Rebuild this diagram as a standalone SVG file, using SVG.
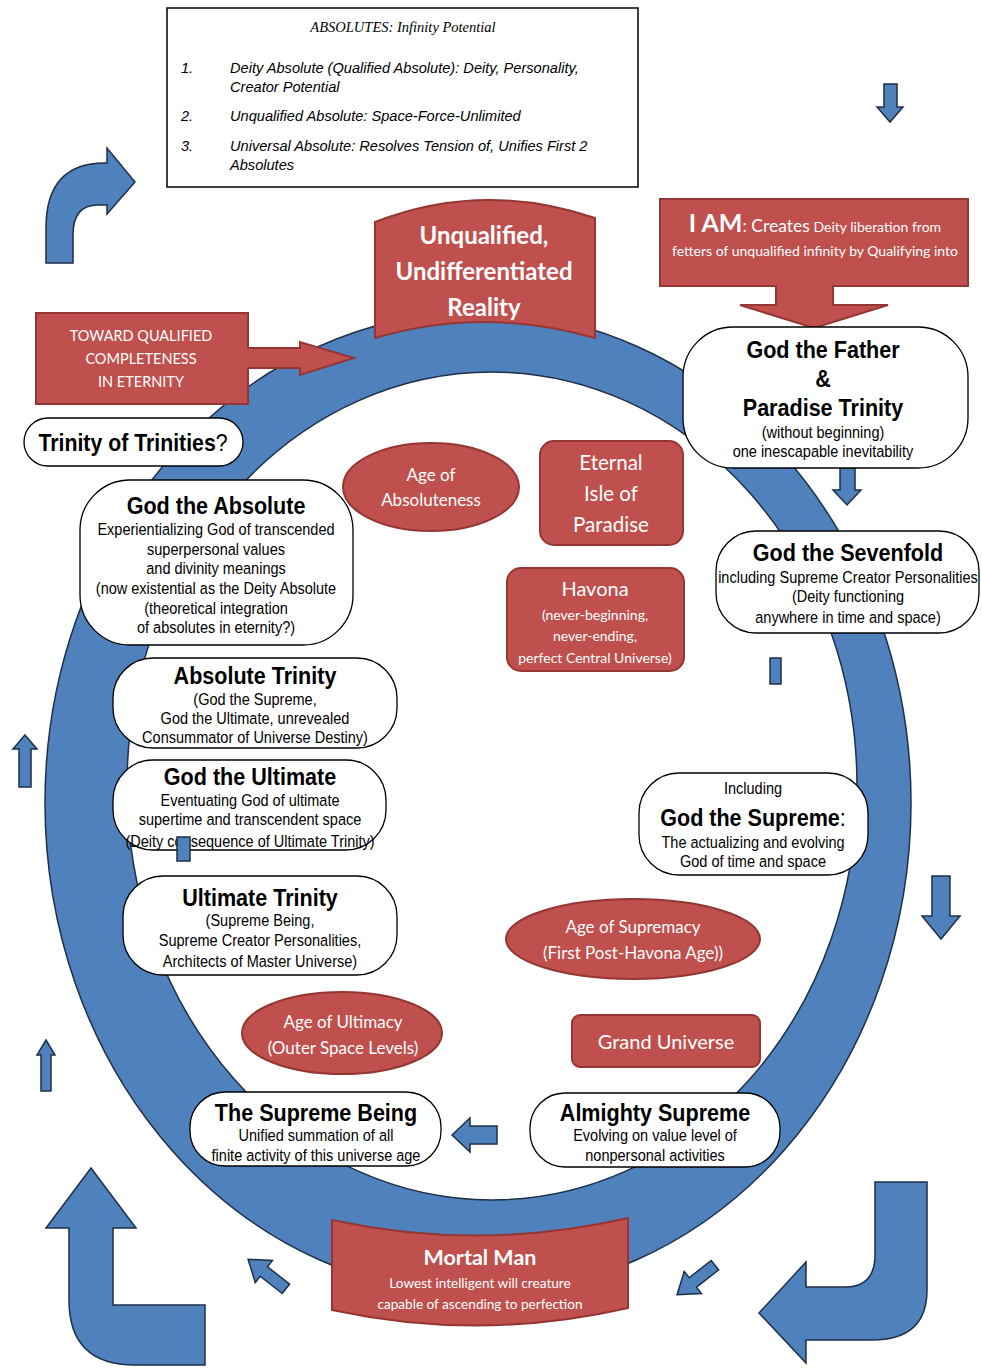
<svg xmlns="http://www.w3.org/2000/svg" width="982" height="1370" viewBox="0 0 982 1370">
<defs>
<style>
.ring{fill:#4F81BD;stroke:#1F2F46;stroke-width:1.5;fill-rule:evenodd}
.blue{fill:#4F81BD;stroke:#1F2F46;stroke-width:1.5}
.red{fill:#C0504D;stroke:#943634;stroke-width:2}
.pill{fill:#fff;stroke:#000;stroke-width:1.3}
.t{font-family:"Liberation Sans",Arial,sans-serif;fill:#000;text-anchor:middle}
.tb{font-weight:bold;font-size:24.5px}
.ts{font-size:16.5px}
.w{font-family:Lato,"Open Sans",sans-serif;fill:#fff;text-anchor:middle}
.it{font-family:"Liberation Sans",Arial,sans-serif;font-style:italic;font-size:14.6px;fill:#000}
</style>
</defs>
<rect width="982" height="1370" fill="#fff"/>

<g id="ring">
<path class="ring" d="M45,803 A433,491 0 1,0 911,803 A433,491 0 1,0 45,803 Z M127,786 A365,414 0 1,1 857,786 A365,414 0 1,1 127,786 Z"/>
</g>

<g id="connectors">
<path class="blue" d="M46,263 L46,228 Q46,163 105,163 L107,163 L107,148 L135,182 L107,214 L107,205 L98,205 Q73,205 73,235 L73,263 Z"/>
<path class="blue" d="M884,84 L897,84 L897,107 L903,107 L890,122 L877,107 L884,107 Z"/>
<path class="blue" d="M840,468 L855,468 L855,490 L861,490 L847,505 L833,490 L840,490 Z"/>
<rect class="blue" x="770" y="658" width="11" height="26"/>
<path class="blue" d="M932,876 L950,876 L950,916 L960,916 L941,939 L922,916 L932,916 Z"/>
<path class="blue" d="M25,735 L37,749 L31,749 L31,787 L19,787 L19,749 L13,749 Z"/>
<path class="blue" d="M46,1040 L55,1055 L51,1055 L51,1091 L41,1091 L41,1055 L37,1055 Z"/>
<path class="blue" d="M452,1135 L470,1118 L470,1126 L497,1126 L497,1144 L470,1144 L470,1152 Z"/>
<path class="blue" d="M91,1168 L136,1228 L113,1228 L113,1305 L205,1305 L205,1365 L135,1365 Q69,1365 69,1300 L69,1228 L46,1228 Z"/>
<path class="blue" d="M875,1182 L927,1182 L927,1290 Q927,1340 872,1340 L806,1340 L806,1363 L759,1313 L806,1262 L806,1287 L845,1287 Q875,1287 875,1255 Z"/>
<path class="blue" transform="translate(267,1274) rotate(218)" d="M-24,-6 L4,-6 L4,-14 L24,0 L4,14 L4,6 L-24,6 Z"/>
<path class="blue" transform="translate(696,1280) rotate(142)" d="M-24,-6 L4,-6 L4,-14 L24,0 L4,14 L4,6 L-24,6 Z"/>
</g>

<g id="absolutes">
<rect x="167" y="8" width="471" height="179" fill="#fff" stroke="#000" stroke-width="1.5"/>
<text x="403" y="32" font-family="'Liberation Serif','Times New Roman',serif" font-style="italic" font-size="14.5" text-anchor="middle">ABSOLUTES: Infinity Potential</text>
<text class="it" x="181" y="73">1.</text>
<text class="it" x="230" y="73">Deity Absolute (Qualified Absolute): Deity, Personality,</text>
<text class="it" x="230" y="92">Creator Potential</text>
<text class="it" x="181" y="121">2.</text>
<text class="it" x="230" y="121">Unqualified Absolute: Space-Force-Unlimited</text>
<text class="it" x="181" y="151">3.</text>
<text class="it" x="230" y="151">Universal Absolute: Resolves Tension of, Unifies First 2</text>
<text class="it" x="230" y="170">Absolutes</text>
</g>

<g id="unqualified">
<path class="red" d="M375,222 Q483,180 595,218 L595,338 Q483,306 375,338 Z"/>
<text class="w" x="484" y="244" font-size="24" font-weight="bold">Unqualified,</text>
<text class="w" x="484" y="280" font-size="24" font-weight="bold">Undifferentiated</text>
<text class="w" x="484" y="316" font-size="24" font-weight="bold">Reality</text>
</g>

<g id="iam">
<path class="red" d="M660,199 L968,199 L968,286 L833,286 L833,305 L888,305 L814,328 L740,305 L776,305 L776,286 L660,286 Z"/>
<text class="w" x="815" y="232"><tspan font-size="25" font-weight="bold">I AM</tspan><tspan font-size="17.5">: Creates</tspan><tspan font-size="14"> Deity liberation from</tspan></text>
<text class="w" x="815" y="256" font-size="14">fetters of unqualified infinity by Qualifying into</text>
</g>

<g id="toward">
<path class="red" d="M36,313 L248,313 L248,348 L300,348 L300,342 L354,358 L300,375 L300,368 L248,368 L248,404 L36,404 Z"/>
<text class="w" x="141" y="341" font-size="14.5">TOWARD QUALIFIED</text>
<text class="w" x="141" y="364" font-size="14.5">COMPLETENESS</text>
<text class="w" x="141" y="387" font-size="14.5">IN ETERNITY</text>
</g>

<g id="trinity-of-trinities">
<rect class="pill" x="24" y="418" width="219" height="48" rx="24"/>
<g transform="translate(133,0) scale(0.88,1)"><text class="t" x="0" y="451" font-size="24.2"><tspan font-weight="bold">Trinity of Trinities</tspan>?</text></g>
</g>

<g id="god-the-father">
<rect class="pill" x="683" y="327" width="285" height="141" rx="50"/>
<g class="t" transform="translate(823,0) scale(0.88,1)">
<text class="t tb" x="0" y="358">God the Father</text>
<text class="t tb" x="0" y="387">&amp;</text>
<text class="t tb" x="0" y="416">Paradise Trinity</text>
<text class="t ts" x="0" y="438">(without beginning)</text>
<text class="t ts" x="0" y="457">one inescapable inevitability</text>
</g>
</g>

<g id="god-the-sevenfold">
<rect class="pill" x="716" y="531" width="263" height="102" rx="40"/>
<g transform="translate(848,0) scale(0.88,1)">
<text class="t tb" x="0" y="561">God the Sevenfold</text>
<text class="t ts" x="0" y="583">including Supreme Creator Personalities</text>
<text class="t ts" x="0" y="602">(Deity functioning</text>
<text class="t ts" x="0" y="623">anywhere in time and space)</text>
</g>
</g>

<g id="age-of-absoluteness">
<ellipse class="red" cx="431" cy="487" rx="88" ry="44"/>
<text class="w" x="431" y="481" font-size="17">Age of</text>
<text class="w" x="431" y="506" font-size="17">Absoluteness</text>
</g>

<g id="eternal-isle">
<rect class="red" x="540" y="441" width="143" height="104" rx="14"/>
<text class="w" x="611" y="470" font-size="20.5">Eternal</text>
<text class="w" x="611" y="501" font-size="20.5">Isle of</text>
<text class="w" x="611" y="532" font-size="20.5">Paradise</text>
</g>

<g id="havona">
<rect class="red" x="507" y="568" width="177" height="103" rx="14"/>
<text class="w" x="595" y="596" font-size="20">Havona</text>
<text class="w" x="595" y="620" font-size="14">(never-beginning,</text>
<text class="w" x="595" y="641" font-size="14">never-ending,</text>
<text class="w" x="595" y="663" font-size="14">perfect Central Universe)</text>
</g>

<g id="god-the-absolute">
<rect class="pill" x="80" y="480" width="273" height="165" rx="50"/>
<g transform="translate(216,0) scale(0.88,1)">
<text class="t tb" x="0" y="514">God the Absolute</text>
<text class="t ts" x="0" y="535">Experientializing God of transcended</text>
<text class="t ts" x="0" y="555">superpersonal values</text>
<text class="t ts" x="0" y="574">and divinity meanings</text>
<text class="t ts" x="0" y="594">(now existential as the Deity Absolute</text>
<text class="t ts" x="0" y="614">(theoretical integration</text>
<text class="t ts" x="0" y="633">of absolutes in eternity?)</text>
</g>
</g>

<g id="absolute-trinity">
<rect class="pill" x="113" y="658" width="284" height="90" rx="40"/>
<g transform="translate(255,0) scale(0.88,1)">
<text class="t tb" x="0" y="684">Absolute Trinity</text>
<text class="t ts" x="0" y="705">(God the Supreme,</text>
<text class="t ts" x="0" y="724">God the Ultimate, unrevealed</text>
<text class="t ts" x="0" y="743">Consummator of Universe Destiny)</text>
</g>
</g>

<g id="god-the-ultimate">
<rect class="pill" x="113" y="760" width="273" height="90" rx="40"/>
<g transform="translate(250,0) scale(0.88,1)">
<text class="t tb" x="0" y="785">God the Ultimate</text>
<text class="t ts" x="0" y="806">Eventuating God of ultimate</text>
<text class="t ts" x="0" y="825">supertime and transcendent space</text>
<text class="t ts" x="0" y="847">(Deity consequence of Ultimate Trinity)</text>
</g>
<rect class="blue" x="177" y="837" width="13" height="24"/>
</g>

<g id="god-the-supreme">
<rect class="pill" x="639" y="773" width="229" height="102" rx="40"/>
<g transform="translate(753,0) scale(0.88,1)">
<text class="t ts" x="0" y="794">Including</text>
<text class="t tb" x="0" y="826">God the Supreme<tspan font-weight="normal">:</tspan></text>
<text class="t ts" x="0" y="848">The actualizing and evolving</text>
<text class="t ts" x="0" y="867">God of time and space</text>
</g>
</g>

<g id="ultimate-trinity">
<rect class="pill" x="123" y="876" width="274" height="99" rx="40"/>
<g transform="translate(260,0) scale(0.88,1)">
<text class="t tb" x="0" y="906">Ultimate Trinity</text>
<text class="t ts" x="0" y="926">(Supreme Being,</text>
<text class="t ts" x="0" y="946">Supreme Creator Personalities,</text>
<text class="t ts" x="0" y="967">Architects of Master Universe)</text>
</g>
</g>

<g id="age-of-supremacy">
<ellipse class="red" cx="633" cy="939" rx="127" ry="40"/>
<text class="w" x="633" y="933" font-size="17">Age of Supremacy</text>
<text class="w" x="633" y="959" font-size="17">(First Post-Havona Age))</text>
</g>

<g id="age-of-ultimacy">
<ellipse class="red" cx="342" cy="1033" rx="100" ry="41"/>
<text class="w" x="343" y="1028" font-size="17">Age of Ultimacy</text>
<text class="w" x="343" y="1054" font-size="17">(Outer Space Levels)</text>
</g>

<g id="grand-universe">
<rect class="red" x="572" y="1015" width="188" height="52" rx="8"/>
<text class="w" x="666" y="1049" font-size="20">Grand Universe</text>
</g>

<g id="supreme-being">
<rect class="pill" x="190" y="1092" width="251" height="74" rx="35"/>
<g transform="translate(316,0) scale(0.88,1)">
<text class="t tb" x="0" y="1121">The Supreme Being</text>
<text class="t ts" x="0" y="1141">Unified summation of all</text>
<text class="t ts" x="0" y="1161">finite activity of this universe age</text>
</g>
</g>

<g id="almighty-supreme">
<rect class="pill" x="530" y="1093" width="250" height="74" rx="35"/>
<g transform="translate(655,0) scale(0.88,1)">
<text class="t tb" x="0" y="1121">Almighty Supreme</text>
<text class="t ts" x="0" y="1141">Evolving on value level of</text>
<text class="t ts" x="0" y="1161">nonpersonal activities</text>
</g>
</g>

<g id="mortal-man">
<path class="red" d="M332,1220 Q480,1252 628,1218 L628,1308 Q480,1342 332,1310 Z"/>
<text class="w" x="480" y="1265" font-size="21.5" font-weight="bold">Mortal Man</text>
<text class="w" x="480" y="1288" font-size="13.6">Lowest intelligent will creature</text>
<text class="w" x="480" y="1309" font-size="13.6">capable of ascending to perfection</text>
</g>
</svg>
